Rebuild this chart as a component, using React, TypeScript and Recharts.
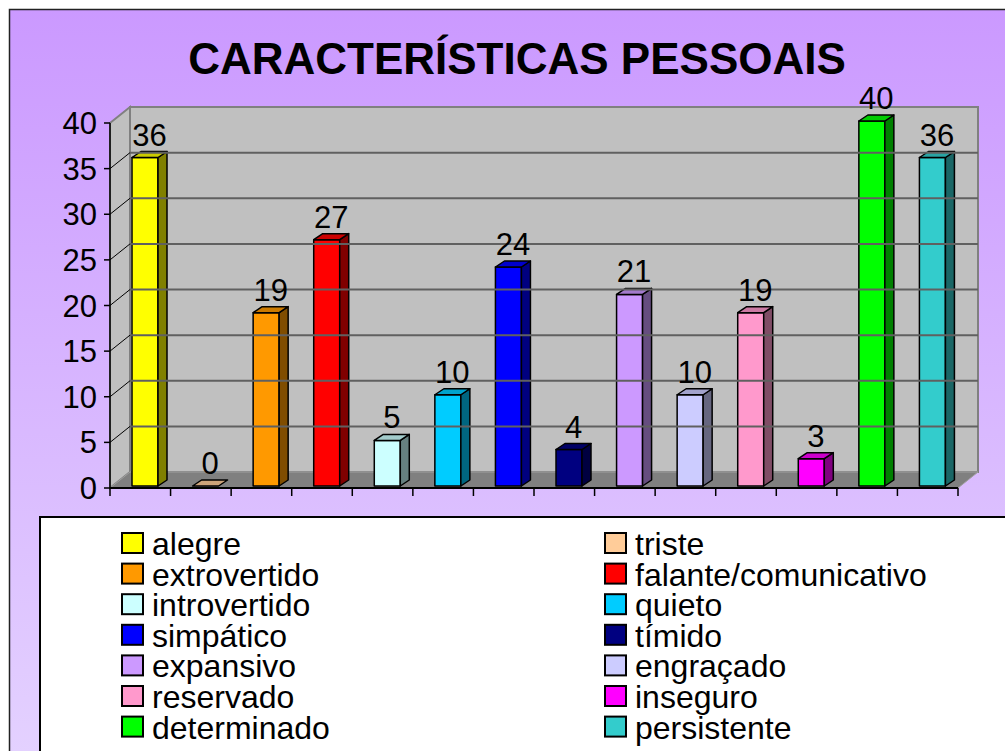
import { BarChart, Bar, XAxis, YAxis, ReferenceArea, ReferenceLine, LabelList } from "recharts";

const categories = [
  "alegre",
  "triste",
  "extrovertido",
  "falante/comunicativo",
  "introvertido",
  "quieto",
  "simpático",
  "tímido",
  "expansivo",
  "engraçado",
  "reservado",
  "inseguro",
  "determinado",
  "persistente",
];
const counts = [36, 0, 19, 27, 5, 10, 24, 4, 21, 10, 19, 3, 40, 36];
const barColors = [
  "#ffff00",
  "#ffcc99",
  "#ff9900",
  "#ff0000",
  "#ccffff",
  "#00ccff",
  "#0000ff",
  "#000080",
  "#cc99ff",
  "#ccccff",
  "#ff99cc",
  "#ff00ff",
  "#00ff00",
  "#33cccc",
];
const yTicks = [0, 5, 10, 15, 20, 25, 30, 35, 40];
const title = "CARACTERÍSTICAS PESSOAIS";

const FONT = '"Liberation Sans", Arial, sans-serif';
// depth of the 3D box walls and of each bar
const WALL_DX = 20;
const WALL_DY = 16;
const BAR_DX = 9;
const BAR_DY = 6;
// bars sit a little behind the front edge of the floor
const BAR_SHIFT_X = 5;
const BAR_SHIFT_Y = -2;

function shade(hex: string, k: number) {
  const n = parseInt(hex.slice(1), 16);
  const r = Math.round(((n >> 16) & 255) * k);
  const g = Math.round(((n >> 8) & 255) * k);
  const b = Math.round((n & 255) * k);
  return `rgb(${r},${g},${b})`;
}

const chartData = categories.map((name, i) => ({ name, value: counts[i] }));

function Walls(props: any) {
  const { x, y, width, height } = props;
  const b = y + height;
  return (
    <g>
      <polygon
        points={`${x},${y} ${x + WALL_DX},${y - WALL_DY} ${x + WALL_DX},${b - WALL_DY} ${x},${b}`}
        fill="#c0c0c0"
        stroke="#808080"
        strokeWidth={2}
      />
      <rect
        x={x + WALL_DX}
        y={y - WALL_DY}
        width={width}
        height={height}
        fill="#c0c0c0"
        stroke="#808080"
        strokeWidth={2}
      />
      <polygon
        points={`${x},${b} ${x + WALL_DX},${b - WALL_DY} ${x + width + WALL_DX},${b - WALL_DY} ${x + width},${b}`}
        fill="#808080"
        stroke="#a0a0a0"
        strokeWidth={1}
      />
    </g>
  );
}

// gridline on the back wall plus the short diagonal across the side wall
function WallGridLine(props: any) {
  const { x1, y1, x2 } = props;
  return (
    <g>
      <line x1={x1} y1={y1} x2={x1 + WALL_DX} y2={y1 - WALL_DY} stroke="#000" strokeWidth={1} />
      <line
        x1={x1 + WALL_DX}
        y1={y1 - WALL_DY}
        x2={x2 + WALL_DX}
        y2={y1 - WALL_DY}
        stroke="#606060"
        strokeWidth={2}
      />
    </g>
  );
}

function Bar3D(props: any) {
  const { x, y, width, height, index } = props;
  const c = barColors[index];
  const fx = x + BAR_SHIFT_X;
  const fy = y + BAR_SHIFT_Y;
  const h = Math.max(height || 0, 0);
  const top = `${fx},${fy} ${fx + BAR_DX},${fy - BAR_DY} ${fx + width + BAR_DX},${fy - BAR_DY} ${fx + width},${fy}`;
  const side = `${fx + width},${fy} ${fx + width + BAR_DX},${fy - BAR_DY} ${fx + width + BAR_DX},${fy + h - BAR_DY} ${fx + width},${fy + h}`;
  return (
    <g stroke="#000" strokeWidth={1.5} strokeLinejoin="round">
      {h > 0 && <rect x={fx} y={fy} width={width} height={h} fill={c} />}
      {h > 0 && <polygon points={side} fill={shade(c, 0.5)} />}
      <polygon points={top} fill={h > 0 ? shade(c, 0.8) : shade(c, 0.8)} />
    </g>
  );
}

function BarValue(props: any) {
  const { x, y, width, value } = props;
  return (
    <text
      x={x + BAR_SHIFT_X + (width + BAR_DX) / 2}
      y={y + BAR_SHIFT_Y - 12}
      textAnchor="middle"
      fontFamily={FONT}
      fontSize={31}
      fill="#000"
    >
      {value}
    </text>
  );
}

function BoundaryTick(props: any) {
  const { x, y, payload, index, visibleTicksCount } = props;
  const off = payload && payload.offset != null ? payload.offset : 0;
  const last = index === visibleTicksCount - 1;
  return (
    <g stroke="#000" strokeWidth={1.5}>
      <line x1={x - off} y1={y} x2={x - off} y2={y + 8} />
      {last && <line x1={x + off} y1={y} x2={x + off} y2={y + 8} />}
    </g>
  );
}

function LegendBox() {
  const rowH = 30.6;
  return (
    <svg width={1005} height={751} style={{ position: "absolute", left: 0, top: 0 }}>
      <rect x={40} y={517} width={1000} height={300} fill="#fff" stroke="#000" strokeWidth={2} />
      {categories.map((name, i) => {
        const col = i % 2;
        const row = Math.floor(i / 2);
        const sx = col === 0 ? 122 : 605;
        const sy = 533 + row * rowH;
        return (
          <g key={name}>
            <rect x={sx} y={sy} width={21} height={20} fill={barColors[i]} stroke="#000" strokeWidth={2} />
            <text x={sx + 30} y={555 + row * rowH} fontFamily={FONT} fontSize={32} fill="#000">
              {name}
            </text>
          </g>
        );
      })}
    </svg>
  );
}

export default function App() {
  return (
    <div style={{ position: "absolute", left: 0, top: 0, width: 1005, height: 751, overflow: "hidden", background: "#fff" }}>
      <svg width={1005} height={751} style={{ position: "absolute", left: 0, top: 0 }}>
        <defs>
          <linearGradient id="bg" x1="0" y1="0" x2="0" y2="1">
            <stop offset="0%" stopColor="#cb99ff" />
            <stop offset="100%" stopColor="#e9ddff" />
          </linearGradient>
        </defs>
        <rect x={9.5} y={9.5} width={1100} height={900} fill="url(#bg)" stroke="#222" strokeWidth={1.5} />
        <text x={517} y={74} textAnchor="middle" fontFamily={FONT} fontWeight="bold" fontSize={44} fill="#000">
          {title}
        </text>
      </svg>
      <div style={{ position: "absolute", left: 0, top: 0 }}>
        <BarChart
          width={1005}
          height={751}
          data={chartData}
          margin={{ top: 123, right: 47, left: 50, bottom: 233 }}
          barSize={26}
        >
          <ReferenceArea y1={0} y2={40} shape={<Walls />} ifOverflow="visible" />
          {yTicks
            .filter((t) => t > 0 && t < 40)
            .map((t) => (
              <ReferenceLine key={t} y={t} ifOverflow="visible" shape={<WallGridLine />} />
            ))}
          <XAxis
            dataKey="name"
            interval={0}
            tickSize={0}
            tickMargin={0}
            tickLine={false}
            axisLine={{ stroke: "#000", strokeWidth: 2 }}
            tick={<BoundaryTick />}
            height={30}
          />
          <YAxis
            domain={[0, 40]}
            ticks={yTicks}
            interval={0}
            width={60}
            tickSize={6}
            tickMargin={7}
            axisLine={{ stroke: "#000", strokeWidth: 1.5 }}
            tickLine={{ stroke: "#000", strokeWidth: 1.5 }}
            tick={{ fill: "#000", fontSize: 31, fontFamily: FONT }}
          />
          <Bar dataKey="value" shape={<Bar3D />} isAnimationActive={false}>
            <LabelList dataKey="value" content={<BarValue />} />
          </Bar>
        </BarChart>
      </div>
      <LegendBox />
    </div>
  );
}
